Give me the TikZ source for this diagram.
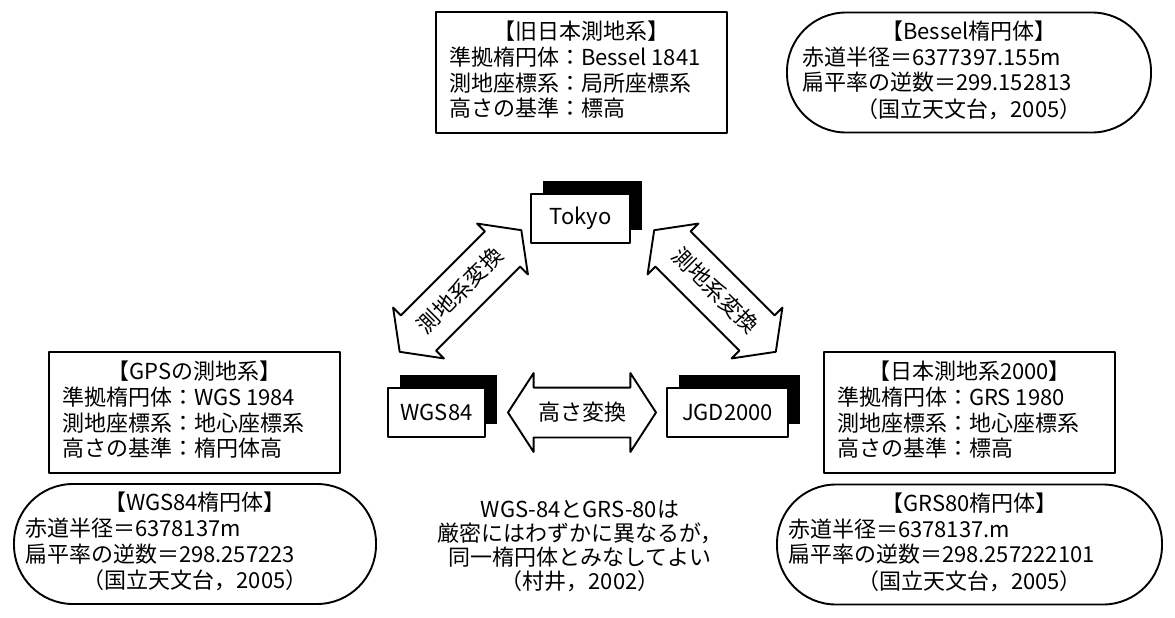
\documentclass[tikz,border=0pt]{standalone}
\usepackage{fontspec}
\setmainfont{Noto Sans CJK JP}
\usetikzlibrary{shapes.arrows,shadows,calc}
\newcommand\ctrline[1]{\multicolumn{1}{@{}c@{}}{#1}}
\newcommand\infotext[2]{\begin{tabular}{@{}p{#1}@{}}#2\end{tabular}}
\begin{document}
\begin{tikzpicture}[x=1pt,y=-1pt,line width=1.9pt,line join=round,
	font=\fontsize{22}{24.5}\selectfont,
	infobox/.style={draw,minimum width=291pt,minimum height=121pt,inner sep=0pt},
	ellbox/.style={draw,rounded corners=59pt,minimum height=120pt,inner sep=0pt},
	datum/.style={draw,fill=white,minimum height=49pt,inner sep=0pt,
		drop shadow={shadow xshift=12pt,shadow yshift=13pt,fill=black,opacity=1}},
	convarrow/.style={double arrow,draw,inner xsep=0pt,inner ysep=15pt,
		text height=16.5pt,text depth=1.5pt,minimum width=0pt,double arrow head indent=0pt}]
	\useasboundingbox (0,0) rectangle (1175,618);
	% datums
	\node[datum,minimum width=99pt] (tokyo) at (580.5,218.5) {Tokyo};
	\node[datum,minimum width=97pt] (wgs) at (436.5,412.5) {WGS84};
	\node[datum,minimum width=121pt] (jgd) at (727.5,412.5) {JGD2000};
	% conversions
	\node[convarrow,minimum height=148pt,double arrow head extend=14.5pt,double arrow tip angle=114]
		(hconv) at ($(wgs)!0.5!(jgd)$) {高さ変換};
	\node[convarrow,rotate=45,minimum height=172pt,double arrow head extend=11pt,double arrow tip angle=107]
		(lconv) at (460.5,291) {測地系変換};
	\node[convarrow,rotate=-45,minimum height=172pt,double arrow head extend=11pt,double arrow tip angle=107]
		(rconv) at (715,291) {測地系変換};
	% systems
	\node[infobox] (oldjp) at (581.5,72.5) {\infotext{265pt}{\ctrline{【旧日本測地系】}\\
		準拠楕円体：Bessel 1841\\測地座標系：局所座標系\\高さの基準：標高}};
	\node[infobox] (gps) at (194.5,412.5) {\infotext{265pt}{\ctrline{【GPSの測地系】}\\
		準拠楕円体：WGS 1984\\測地座標系：地心座標系\\高さの基準：楕円体高}};
	\node[infobox] (jgdsys) at (969.5,412.5) {\infotext{265pt}{\ctrline{【日本測地系2000】}\\
		準拠楕円体：GRS 1980\\測地座標系：地心座標系\\高さの基準：標高}};
	% ellipsoids
	\node[ellbox,minimum width=364pt] (bessel) at (969,72.5) {\infotext{334pt}{\ctrline{【Bessel楕円体】}\\
		赤道半径＝6377397.155m\\扁平率の逆数＝299.152813\\\ctrline{（国立天文台，2005）}}};
	\node[ellbox,minimum width=362pt] (wgsell) at (195,544) {\infotext{340pt}{\ctrline{【WGS84楕円体】}\\
		赤道半径＝6378137m\\扁平率の逆数＝298.257223\\\ctrline{（国立天文台，2005）}}};
	\node[ellbox,minimum width=385pt] (grsell) at (969.5,544.5) {\infotext{363pt}{\ctrline{【GRS80楕円体】}\\
		赤道半径＝6378137.m\\扁平率の逆数＝298.257222101\\\ctrline{（国立天文台，2005）}}};
	\node[align=center,font=\fontsize{22}{24}\selectfont] (note) at (580,546)
		{WGS-84とGRS-80は\\厳密にはわずかに異なるが，\\同一楕円体とみなしてよい\\（村井，2002）};
\end{tikzpicture}
\end{document}
